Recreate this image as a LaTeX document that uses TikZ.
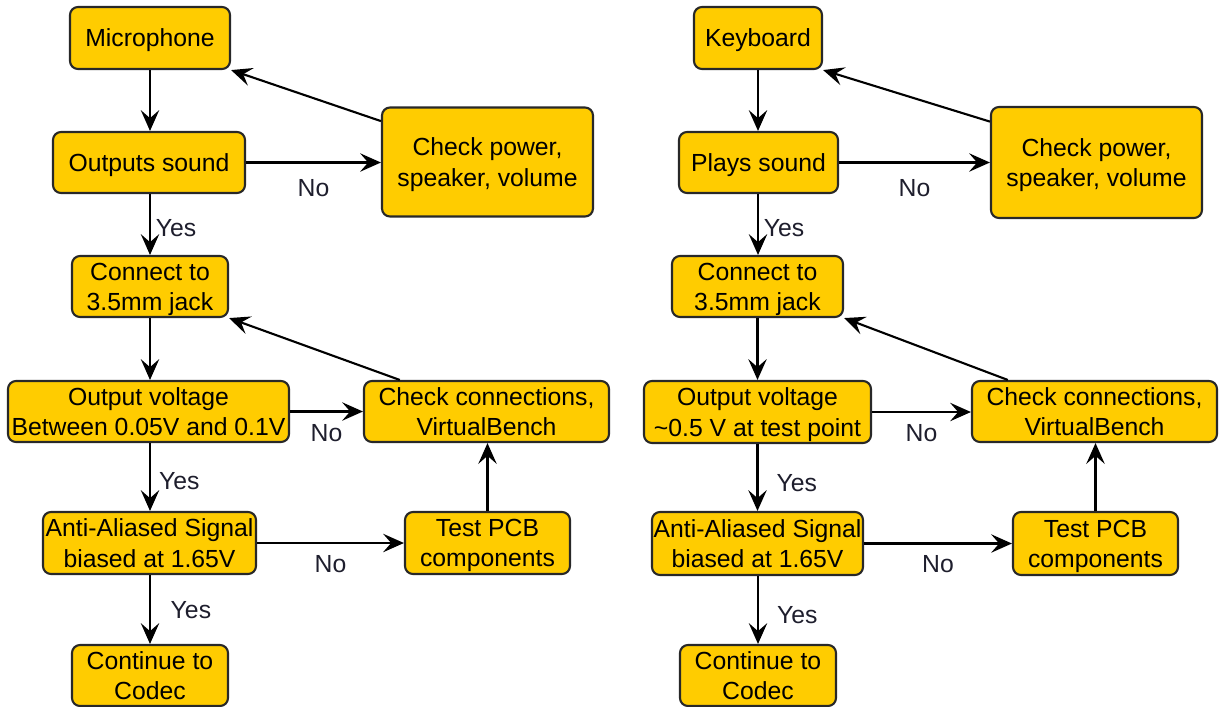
\documentclass[tikz,border=0pt]{standalone}
\usepackage{fontspec}
\setmainfont{Liberation Sans}
\usepackage{tikz}
\usepackage{xcolor}
\usetikzlibrary{arrows.meta}

\definecolor{boxfill}{RGB}{255,204,0}
\definecolor{boxline}{RGB}{40,40,40}
\definecolor{lbltext}{RGB}{30,30,45}

\tikzset{
  flowbox/.style={draw=boxline, fill=boxfill, line width=1.5pt, rounded corners=0.2cm,
    align=center, inner sep=0pt, text depth=0pt, font=\fontsize{17.6}{21.5}\selectfont},
  sz/.style 2 args={minimum width=#1*0.025cm, minimum height=#2*0.025cm},
  flow/.style={line width=1.5pt, -{Stealth[length=0.52cm, width=0.46cm, inset=0.2cm]}},
  lbl/.style={text=lbltext, font=\fontsize{17.6}{20}\selectfont, inner sep=1pt}
}

\begin{document}
\begin{tikzpicture}[x=0.025cm, y=-0.025cm]
  \useasboundingbox (0,0) rectangle (1219,706);

  % microphone flow
  \node[flowbox, sz={160}{62}] (mic) at (150,38) {Microphone};
  \node[flowbox, sz={192}{61}] (sound) at (149,162.5) {Outputs sound};
  \node[flowbox, sz={211}{109}] (power) at (487.5,162) {Check power,\\speaker, volume};
  \node[flowbox, sz={156}{61}] (jack) at (150,286.5) {Connect to\\3.5mm jack};
  \node[flowbox, sz={281}{61}] (volt) at (148.5,411.5) {Output voltage\\Between 0.05V and 0.1V};
  \node[flowbox, sz={245}{61}] (conn) at (486.5,411.5) {Check connections,\\VirtualBench};
  \node[flowbox, sz={213}{62}] (alias) at (149.5,543) {Anti-Aliased Signal\\biased at 1.65V};
  \node[flowbox, sz={165}{62}] (pcb) at (487.5,543) {Test PCB\\components};
  \node[flowbox, sz={156}{61}] (codec) at (150,675.5) {Continue to\\Codec};

  \draw[flow] (mic.south) -- (mic.south |- sound.north);
  \draw[flow] (sound.east) -- node[lbl, below=10pt] (no1) {No} (sound.east -| power.west);
  \draw[flow] (power.159) -- (mic.south east);
  \draw[flow] (sound.south -| mic.south) -- node[lbl, pos=0.56, anchor=west, xshift=2.5pt] (yes1) {Yes} (jack.north);
  \draw[flow] (jack.south) -- (jack.south |- volt.north);
  \draw[flow] (volt.east) -- node[lbl, below=7.5pt] (no2) {No} (conn.west);
  \draw[flow] (conn.160) -- (jack.south east);
  \draw[flow] (jack.south |- volt.south) -- node[lbl, pos=0.56, anchor=west, xshift=4.7pt] (yes2) {Yes} (jack.south |- alias.north);
  \draw[flow] (alias.east) -- node[lbl, below=7pt] (no3) {No} (pcb.west);
  \draw[flow] (pcb.north) -- (pcb.north |- conn.south);
  \draw[flow] (codec.north |- alias.south) -- node[lbl, pos=0.51, anchor=west, xshift=13pt] (yes3) {Yes} (codec.north);

  % keyboard flow
  \node[flowbox, sz={128}{62}] (kb) at (758,38) {Keyboard};
  \node[flowbox, sz={159}{61}] (play) at (758.5,162.5) {Plays sound};
  \node[flowbox, sz={211}{111}] (kpower) at (1096.5,162.5) {Check power,\\speaker, volume};
  \node[flowbox, sz={171}{61}] (kjack) at (757.5,286.5) {Connect to\\3.5mm jack};
  \node[flowbox, sz={227}{62}] (kvolt) at (757.5,412) {Output voltage\\\textasciitilde0.5 V at test point};
  \node[flowbox, sz={245}{61}] (kconn) at (1094.5,411.5) {Check connections,\\VirtualBench};
  \node[flowbox, sz={211}{63}] (kalias) at (757.5,543.5) {Anti-Aliased Signal\\biased at 1.65V};
  \node[flowbox, sz={165}{63}] (kpcb) at (1095.5,543.5) {Test PCB\\components};
  \node[flowbox, sz={156}{61}] (kcodec) at (758,675.5) {Continue to\\Codec};

  \draw[flow] (kb.south) -- (kb.south |- play.north);
  \draw[flow] (play.east) -- node[lbl, below=10.4pt] (no4) {No} (play.east -| kpower.west);
  \draw[flow] (kpower.159) -- (kb.south east);
  \draw[flow] (kb.south |- play.south) -- node[lbl, pos=0.56, anchor=west, xshift=2.5pt] (yes4) {Yes} (kb.south |- kjack.north);
  \draw[flow] (kjack.south) -- (kjack.south |- kvolt.north);
  \draw[flow] (kvolt.east) -- node[lbl, below=7pt] (no5) {No} (kvolt.east -| kconn.west);
  \draw[flow] (kconn.160) -- (kjack.south east);
  \draw[flow] (kjack.south |- kvolt.south) -- node[lbl, pos=0.58, anchor=west, xshift=11.8pt] (yes5) {Yes} (kjack.south |- kalias.north);
  \draw[flow] (kalias.east) -- node[lbl, below=7pt] (no6) {No} (kalias.east -| kpcb.west);
  \draw[flow] (kpcb.north) -- (kpcb.north |- kconn.south);
  \draw[flow] (kcodec.north |- kalias.south) -- node[lbl, pos=0.57, anchor=west, xshift=11.8pt] (yes6) {Yes} (kcodec.north);
\end{tikzpicture}
\end{document}
